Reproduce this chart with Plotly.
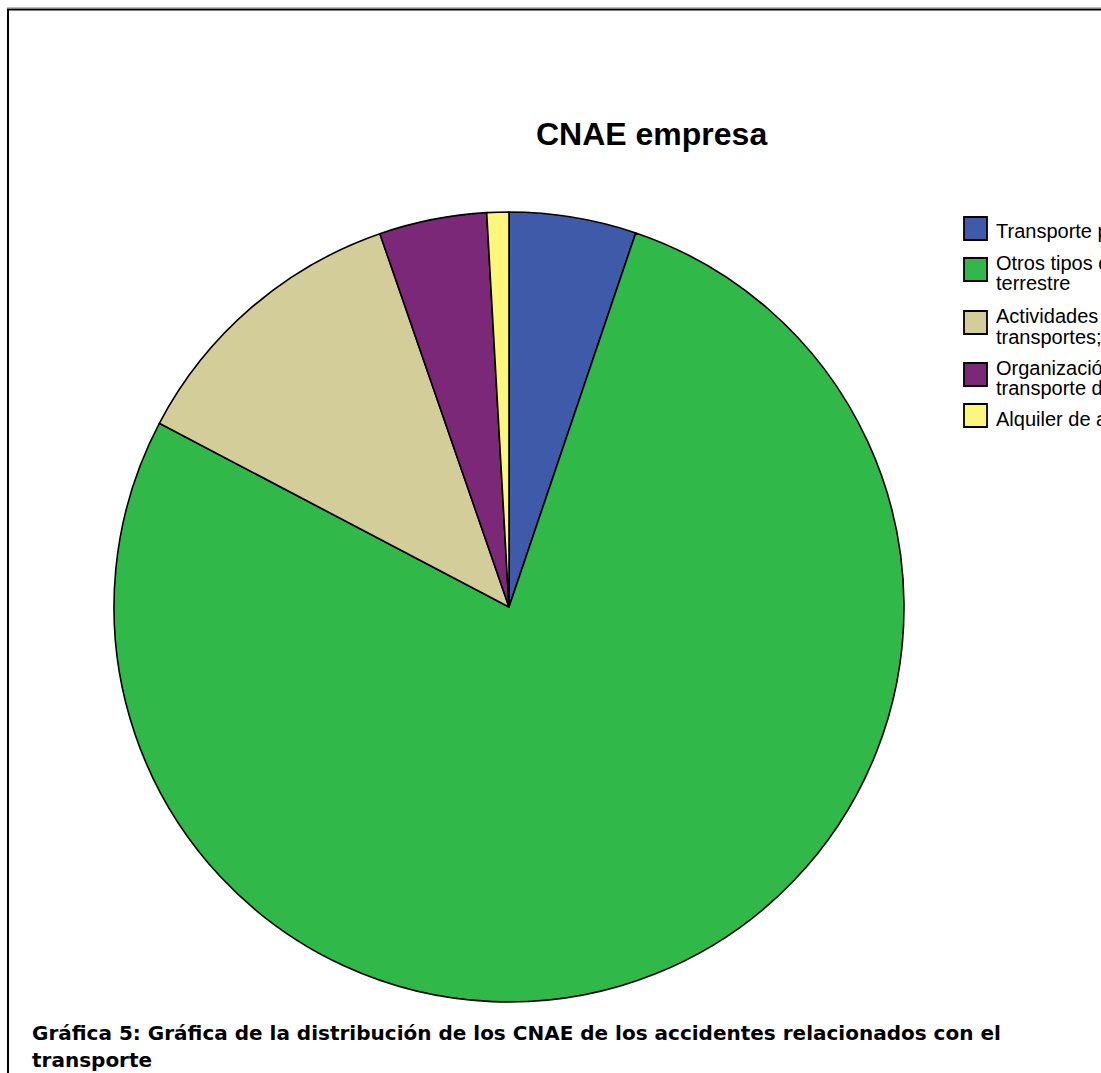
import plotly.graph_objects as go

# Accident counts (share, %) by company CNAE activity
categories = [
    "Transporte por ferrocarril",
    "Otros tipos de transporte terrestre",
    "Actividades anexas a los transportes",
    "Organización del transporte de mercancías",
    "Alquiler de automóviles",
]
legend_lines = [
    ["Transporte por ferrocarril"],
    ["Otros tipos de transporte", "terrestre"],
    ["Actividades anexas a los", "transportes; agencias de viajes"],
    ["Organización del", "transporte de mercancías"],
    ["Alquiler de automóviles"],
]
values = [5.2, 77.5, 12.0, 4.4, 0.9]
colors = ["#3E5AA9", "#30B848", "#D3CD9A", "#7B2878", "#FCF67A"]

title_text = "CNAE empresa"
caption_lines = [
    "Gráfica 5: Gráfica de la distribución de los CNAE de los accidentes relacionados con el",
    "transporte",
]

W, H = 1101, 1073


def px(x):
    return x / W


def py(y):
    return 1 - y / H


fig = go.Figure()
fig.add_trace(go.Pie(
    labels=categories,
    values=values,
    sort=False,
    direction="clockwise",
    rotation=0,
    textinfo="none",
    marker=dict(colors=colors, line=dict(color="#000000", width=1.6)),
    domain=dict(x=[px(114), px(904)], y=[py(1002), py(212)]),
    showlegend=False,
))

shapes = []
annotations = []

# frame lines (top and left)
shapes.append(dict(type="line", xref="paper", yref="paper",
                   x0=px(7), x1=1.0, y0=py(7.5), y1=py(7.5),
                   line=dict(color="#BDBDBD", width=1)))
shapes.append(dict(type="line", xref="paper", yref="paper",
                   x0=px(7), x1=1.0, y0=py(9.5), y1=py(9.5),
                   line=dict(color="#000000", width=2)))
shapes.append(dict(type="line", xref="paper", yref="paper",
                   x0=px(8), x1=px(8), y0=py(9), y1=0,
                   line=dict(color="#000000", width=2)))

# legend: colour boxes with labels
box_tops = [216, 257, 310, 362, 403]
line_mids = [[230], [261.5, 282.5], [315, 336], [366.5, 387.5], [418]]
for i, (col, lines) in enumerate(zip(colors, legend_lines)):
    t = box_tops[i]
    shapes.append(dict(type="rect", xref="paper", yref="paper",
                       x0=px(964), x1=px(987), y0=py(t + 1), y1=py(t + 24),
                       fillcolor=col, line=dict(color="#000000", width=1.8)))
    for ln, ym in zip(lines, line_mids[i]):
        annotations.append(dict(
            xref="paper", yref="paper", x=px(994), y=py(ym + 1),
            xanchor="left", yanchor="middle", showarrow=False,
            text=ln, align="left",
            font=dict(family="Liberation Sans, Arial", size=20, color="#000000"),
        ))

# chart title
annotations.append(dict(
    xref="paper", yref="paper", x=px(651), y=py(134),
    xanchor="center", yanchor="middle", showarrow=False,
    text=f"<b>{title_text}</b>",
    font=dict(family="Liberation Sans, Arial", size=32, color="#000000"),
))

# figure caption
for ln, yc in zip(caption_lines, [1033, 1060]):
    annotations.append(dict(
        xref="paper", yref="paper", x=px(30), y=py(yc),
        xanchor="left", yanchor="middle", showarrow=False,
        text=f"<b>{ln}</b>",
        font=dict(family="DejaVu Sans", size=20, color="#000000"),
    ))

fig.update_layout(
    width=W, height=H,
    margin=dict(l=0, r=0, t=0, b=0, autoexpand=False),
    paper_bgcolor="#FFFFFF",
    plot_bgcolor="#FFFFFF",
    shapes=shapes,
    annotations=annotations,
)

fig.write_html("out.html")
